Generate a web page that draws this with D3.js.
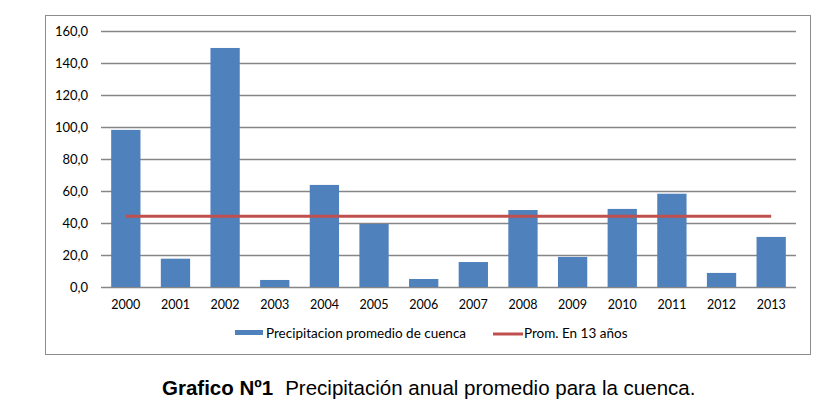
<!DOCTYPE html>
<html>
<head>
<meta charset="utf-8">
<script src="https://cdn.jsdelivr.net/npm/d3@7"></script>
<style>
  body { margin: 0; background: #fff; }
  svg text { font-family: Lato, "Open Sans", sans-serif; fill: #000; }
</style>
</head>
<body>
<div id="chart"></div>
<script>
// datos
const years = ['2000', '2001', '2002', '2003', '2004', '2005', '2006', '2007', '2008', '2009', '2010', '2011', '2012', '2013'];
const precip = [98.2, 17.7, 149.4, 4.4, 63.8, 39.4, 5.0, 15.6, 48.1, 18.8, 48.8, 58.3, 8.8, 31.3];
const average = [44.2];
const yTicks = [0, 20, 40, 60, 80, 100, 120, 140, 160];
const legendLabels = ['Precipitacion promedio de cuenca', 'Prom. En 13 años'];

const width = 820, height = 409;
const plot = { left: 101, right: 796, top: 31, bottom: 287 };

const svg = d3.select('#chart').append('svg')
  .attr('width', width).attr('height', height);

// marco del gráfico
svg.append('rect')
  .attr('x', 45.5).attr('y', 15.5)
  .attr('width', 765).attr('height', 339)
  .attr('fill', '#fff').attr('stroke', '#8c8c8c').attr('stroke-width', 1);

const x = d3.scaleBand().domain(years)
  .range([plot.left, plot.right])
  .paddingInner(0.41).paddingOuter(0.205);

const y = d3.scaleLinear().domain([0, 160]).range([plot.bottom, plot.top]);

const fmt = d3.formatLocale({ decimal: ',', thousands: '.', grouping: [3], currency: ['', ''] }).format('.1f');

// eje Y con líneas de cuadrícula
const yAxis = svg.append('g')
  .attr('transform', 'translate(' + plot.left + ',0)')
  .call(d3.axisLeft(y).tickValues(yTicks).tickFormat(fmt)
    .tickSizeInner(-(plot.right - plot.left)).tickSizeOuter(0).tickPadding(13));
yAxis.select('.domain').remove();
yAxis.selectAll('.tick line').attr('stroke', '#868686').attr('stroke-width', 1.3);
yAxis.selectAll('.tick text').style('font-size', '13px').attr('dy', '0.34em');

// barras
svg.append('g').selectAll('rect').data(precip).enter().append('rect')
  .attr('x', (d, i) => x(years[i]))
  .attr('y', d => y(d))
  .attr('width', x.bandwidth())
  .attr('height', d => y(0) - y(d))
  .attr('fill', '#4F81BD');

// eje X
const xAxis = svg.append('g')
  .attr('transform', 'translate(0,' + plot.bottom + ')')
  .call(d3.axisBottom(x).tickSize(0).tickPadding(13));
xAxis.select('.domain').remove();
xAxis.selectAll('.tick text').style('font-size', '12.5px');

// línea del promedio
const first = years[0], last = years[years.length - 1];
svg.append('line')
  .attr('x1', x(first) + x.bandwidth() / 2)
  .attr('x2', x(last) + x.bandwidth() / 2)
  .attr('y1', y(average[0])).attr('y2', y(average[0]))
  .attr('stroke', '#C0504D').attr('stroke-width', 3);

// leyenda
const legend = svg.append('g').attr('class', 'legend');
legend.append('rect')
  .attr('x', 235).attr('y', 330).attr('width', 28).attr('height', 5)
  .attr('fill', '#4F81BD');
legend.append('text')
  .attr('x', 266).attr('y', 333).attr('dy', '0.34em')
  .style('font-size', '13.5px').text(legendLabels[0]);
legend.append('line')
  .attr('x1', 493).attr('x2', 523).attr('y1', 334).attr('y2', 334)
  .attr('stroke', '#C0504D').attr('stroke-width', 3);
legend.append('text')
  .attr('x', 524).attr('y', 333).attr('dy', '0.34em')
  .style('font-size', '13.5px').text(legendLabels[1]);

// título inferior
const caption = svg.append('text')
  .attr('x', 162).attr('y', 395)
  .style('font-family', '"Liberation Sans", Arial, sans-serif')
  .style('font-size', '20.5px');
caption.append('tspan').style('font-weight', 'bold').text('Grafico Nº1');
caption.append('tspan').attr('dx', 12).text('Precipitación anual promedio para la cuenca.');
</script>
</body>
</html>
